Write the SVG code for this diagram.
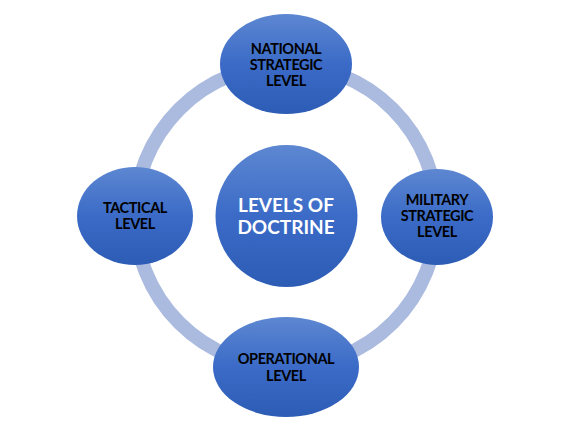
<svg xmlns="http://www.w3.org/2000/svg" width="568" height="439" viewBox="0 0 568 439">
  <defs>
    <linearGradient id="nodeFill" x1="0" y1="0" x2="0" y2="1">
      <stop offset="0" stop-color="#5d87d1"/>
      <stop offset="0.5" stop-color="#3b6bc7"/>
      <stop offset="1" stop-color="#2d5cb5"/>
    </linearGradient>
  </defs>
  <style>
    .node { fill: url(#nodeFill); }
    .lbl { font-family: "Lato", "Roboto", "Liberation Sans", sans-serif; font-weight: bold; font-size: 14.5px; letter-spacing: -0.4px; fill: #000000; text-anchor: middle; }
    .center { font-family: "Lato", "Roboto", "Liberation Sans", sans-serif; font-weight: bold; font-size: 19px; fill: #ffffff; text-anchor: middle; }
    .ring { fill: none; stroke: #abbbdf; stroke-width: 14; }
  </style>
  <rect width="568" height="439" fill="#ffffff"/>
  <g id="connectors">
    <circle class="ring" cx="286" cy="216" r="151"/>
  </g>
  <g id="center-node">
    <circle class="node" cx="286.5" cy="216" r="71"/>
    <text class="center" x="286" y="211.5">LEVELS OF</text>
    <text class="center" x="286" y="234">DOCTRINE</text>
  </g>
  <g id="node-national">
    <ellipse class="node" cx="286" cy="64" rx="66" ry="50"/>
    <text class="lbl" x="286" y="54">NATIONAL</text>
    <text class="lbl" x="286" y="70">STRATEGIC</text>
    <text class="lbl" x="286" y="86">LEVEL</text>
  </g>
  <g id="node-military">
    <ellipse class="node" cx="437" cy="217" rx="56" ry="48"/>
    <text class="lbl" x="437" y="205">MILITARY</text>
    <text class="lbl" x="437" y="221">STRATEGIC</text>
    <text class="lbl" x="437" y="237">LEVEL</text>
  </g>
  <g id="node-operational">
    <ellipse class="node" cx="286" cy="367" rx="73" ry="50"/>
    <text class="lbl" x="286" y="364">OPERATIONAL</text>
    <text class="lbl" x="286" y="381">LEVEL</text>
  </g>
  <g id="node-tactical">
    <ellipse class="node" cx="135" cy="216" rx="58" ry="49"/>
    <text class="lbl" x="135" y="213">TACTICAL</text>
    <text class="lbl" x="135" y="229">LEVEL</text>
  </g>
</svg>
